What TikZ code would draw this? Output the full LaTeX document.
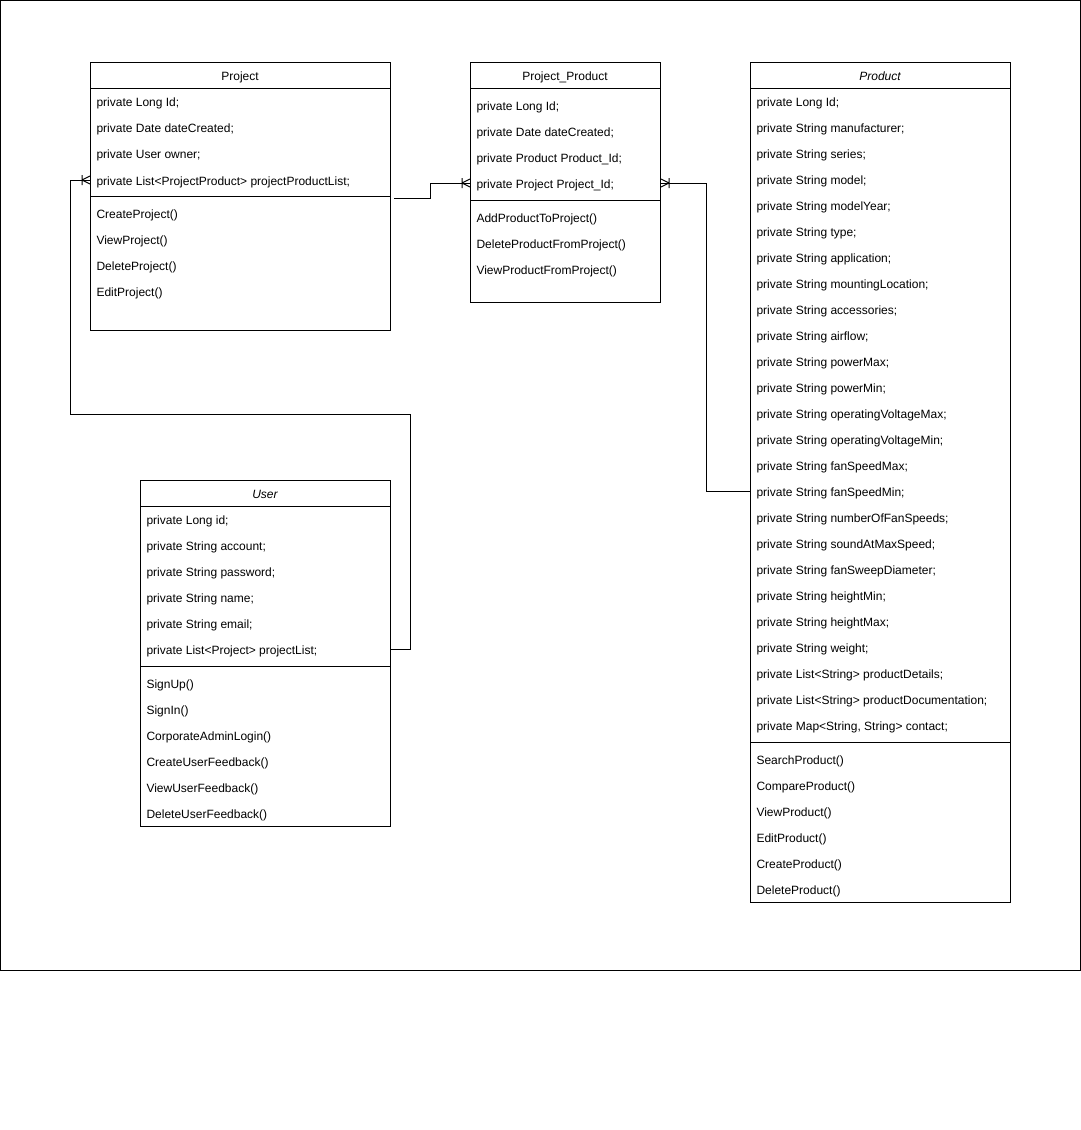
\documentclass[tikz,border=0pt]{standalone}
\usepackage{fontspec}
\setmainfont{Liberation Sans}
\usetikzlibrary{calc}
\begin{document}
\begin{tikzpicture}[x=1pt,y=-1pt,line width=1pt,
  classbox/.style={draw, fill=white, anchor=north west, inner sep=0pt},
  ctitle/.style={font=\fontsize{12}{14}\selectfont, inner sep=0pt, text height=12pt, text depth=2pt},
  row/.style={anchor=west, inner sep=0pt, font=\fontsize{12}{14}\selectfont, text height=12pt, text depth=2pt},
  crowfoot/.pic={\draw[line width=1pt] (-8,-5) -- (-8,5) (-8,0) -- (0,-4) (-8,0) -- (0,4);}
]
\useasboundingbox (0,0) rectangle (1081,1130);
\draw (0.5,0.5) rectangle (1080.5,970.5);

% ---------- Project ----------
\node[classbox, minimum width=300pt, minimum height=268pt] (project) at (90,62) {};
\node[ctitle] (projectT) at (240,75) {Project};
\draw (project.west |- 0,88) -- (project.east |- 0,88);
\node[row] (pj1) at (96,101) {private Long Id;};
\node[row] (pj2) at (96,127) {private Date dateCreated;};
\node[row] (pj3) at (96,153) {private User owner;};
\node[row] (pj4) at (96,180) {private List<ProjectProduct> projectProductList;};
\draw (project.west |- 0,196) -- (project.east |- 0,196);
\node[row] (pj5) at (96,213) {CreateProject()};
\node[row] (pj6) at (96,239) {ViewProject()};
\node[row] (pj7) at (96,265) {DeleteProject()};
\node[row] (pj8) at (96,291) {EditProject()};

% ---------- Project_Product ----------
\node[classbox, minimum width=190pt, minimum height=240pt] (pp) at (470,62) {};
\node[ctitle] (ppT) at (565,75) {Project\_Product};
\draw (pp.west |- 0,88) -- (pp.east |- 0,88);
\node[row] (pp1) at (476,105) {private Long Id;};
\node[row] (pp2) at (476,131) {private Date dateCreated;};
\node[row] (pp3) at (476,157) {private Product Product\_Id;};
\node[row] (pp4) at (476,183) {private Project Project\_Id;};
\draw (pp.west |- 0,200) -- (pp.east |- 0,200);
\node[row] (pp5) at (476,217) {AddProductToProject()};
\node[row] (pp6) at (476,243) {DeleteProductFromProject()};
\node[row] (pp7) at (476,269) {ViewProductFromProject()};

% ---------- Product ----------
\node[classbox, minimum width=260pt, minimum height=840pt] (product) at (750,62) {};
\node[ctitle, font=\fontsize{12}{14}\selectfont\itshape] (productT) at (880,75) {Product};
\draw (product.west |- 0,88) -- (product.east |- 0,88);
\foreach \t [count=\i from 0] in {
  {private Long Id;},
  {private String manufacturer;},
  {private String series;},
  {private String model;},
  {private String modelYear;},
  {private String type;},
  {private String application;},
  {private String mountingLocation;},
  {private String accessories;},
  {private String airflow;},
  {private String powerMax;},
  {private String powerMin;},
  {private String operatingVoltageMax;},
  {private String operatingVoltageMin;},
  {private String fanSpeedMax;},
  {private String fanSpeedMin;},
  {private String numberOfFanSpeeds;},
  {private String soundAtMaxSpeed;},
  {private String fanSweepDiameter;},
  {private String heightMin;},
  {private String heightMax;},
  {private String weight;},
  {private List<String> productDetails;},
  {private List<String> productDocumentation;},
  {private Map<String, String> contact;}}
  \node[row] (pa\i) at (756,101+26*\i) {\t};
\draw (product.west |- 0,742) -- (product.east |- 0,742);
\foreach \t [count=\i from 0] in {SearchProduct(), CompareProduct(), ViewProduct(), EditProduct(), CreateProduct(), DeleteProduct()}
  \node[row] (pm\i) at (756,759+26*\i) {\t};

% ---------- User ----------
\node[classbox, minimum width=250pt, minimum height=346pt] (user) at (140,480) {};
\node[ctitle, font=\fontsize{12}{14}\selectfont\itshape] (userT) at (265,493) {User};
\draw (user.west |- 0,506) -- (user.east |- 0,506);
\node[row] (u1) at (146,519) {private Long id;};
\node[row] (u2) at (146,545) {private String account;};
\node[row] (u3) at (146,571) {private String password;};
\node[row] (u4) at (146,597) {private String name;};
\node[row] (u5) at (146,623) {private String email;};
\node[row] (u6) at (146,649) {private List<Project> projectList;};
\draw (user.west |- 0,666) -- (user.east |- 0,666);
\node[row] (u7) at (146,683) {SignUp()};
\node[row] (u8) at (146,709) {SignIn()};
\node[row] (u9) at (146,735) {CorporateAdminLogin()};
\node[row] (u10) at (146,761) {CreateUserFeedback()};
\node[row] (u11) at (146,787) {ViewUserFeedback()};
\node[row] (u12) at (146,813) {DeleteUserFeedback()};

% ---------- Connectors ----------
% Project -> Project_Product
\coordinate (c1s) at ($(project.east |- 0,198)+(3,0)$);
\coordinate (c1e) at (pp.west |- pp4);
\draw (c1s) -- (430,198) |- (c1e);
\pic at (c1e) {crowfoot};

% Project_Product -> Product
\coordinate (c2s) at (pp.east |- pp4);
\coordinate (c2e) at (product.west |- pa15);
\draw (c2s) -- (706,183) |- (c2e);
\pic[xscale=-1] at (c2s) {crowfoot};

% User -> Project
\coordinate (c3s) at (user.east |- u6);
\coordinate (c3e) at (project.west |- pj4);
\draw (c3s) -- (410,649) -- (410,414) -- (70,414) |- (c3e);
\pic at (c3e) {crowfoot};
\end{tikzpicture}
\end{document}
